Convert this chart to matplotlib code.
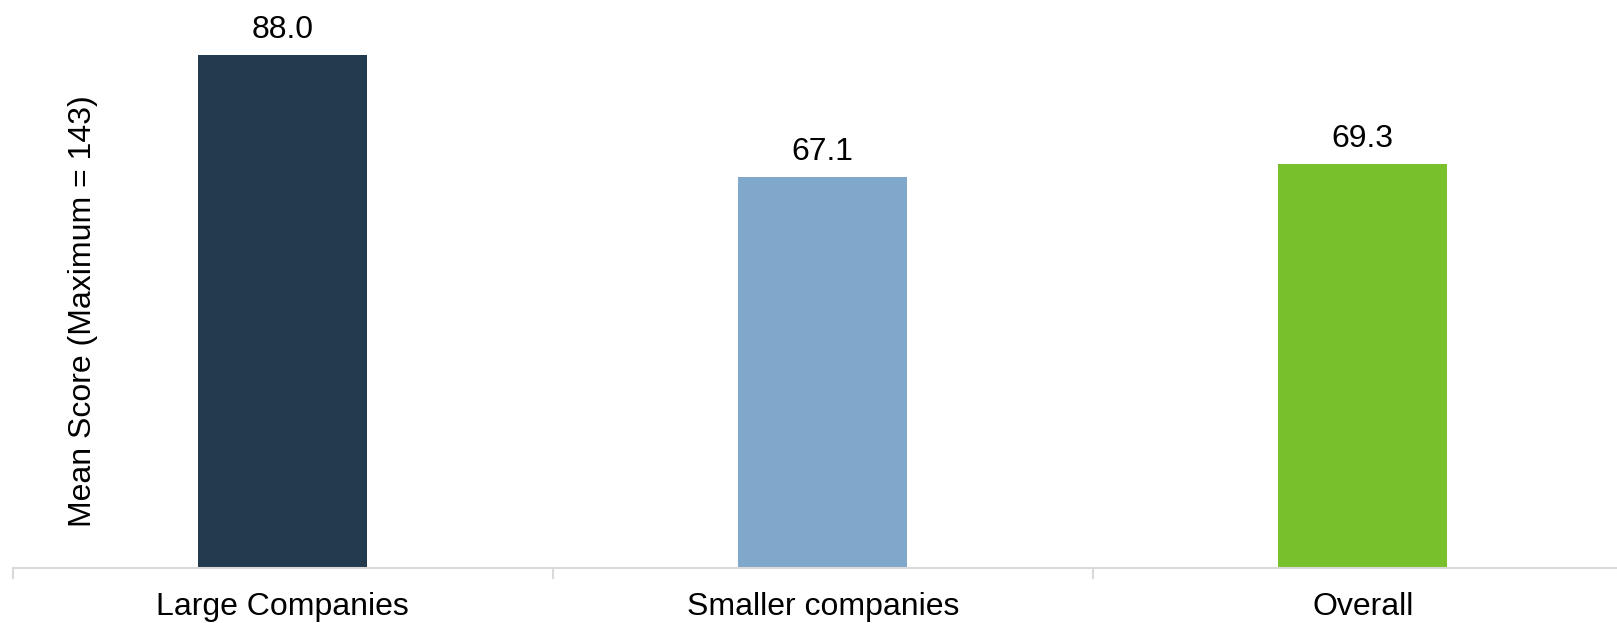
import matplotlib
matplotlib.use("Agg")
import matplotlib.pyplot as plt

categories = ["Large Companies", "Smaller companies", "Overall"]
values = [88.0, 67.1, 69.3]
colors = ["#233B4F", "#7FA8CB", "#78C12D"]

plt.rcParams['font.family'] = ['Liberation Sans', 'DejaVu Sans']

W, H = 1617, 623
fig = plt.figure(figsize=(W / 100, H / 100), dpi=100)
ax_left, ax_bottom_px, ax_top_px = 12.7, 568, 0
ax = fig.add_axes([ax_left / W, (H - ax_bottom_px) / H, (W - ax_left) / W, (ax_bottom_px - ax_top_px) / H])

x = list(range(len(categories)))
ax.bar(x, values, width=0.314, color=colors, zorder=2)
spacing = 540
ax.set_xlim(-0.5, -0.5 + (W - ax_left) / spacing)
ax.set_ylim(0, 97.4)

for xi, v in zip(x, values):
    ax.annotate(f"{v:.1f}", (xi, v), xytext=(0, 7), textcoords="offset points",
                ha="center", va="bottom", fontsize=23, color="black")

for s in ["top", "right", "left"]:
    ax.spines[s].set_visible(False)
ax.spines["bottom"].set_color("#D9D9D9")
ax.spines["bottom"].set_linewidth(1.5)
ax.set_yticks([])

ax.set_xticks(x)
ax.set_xticklabels(categories, fontsize=23)
ax.tick_params(axis="x", length=0, pad=17.5)
# category boundary ticks
for b in [-0.5, 0.5, 1.5]:
    ax.plot([b, b], [0, -10 / 568], transform=ax.get_xaxis_transform(), color="#D9D9D9",
            lw=1.5, clip_on=False)

fig.text(82.5 / W, 1 - 311 / H, "Mean Score (Maximum = 143)", rotation=90,
         ha="center", va="center", fontsize=23)

fig.savefig("out.png", dpi=100)
